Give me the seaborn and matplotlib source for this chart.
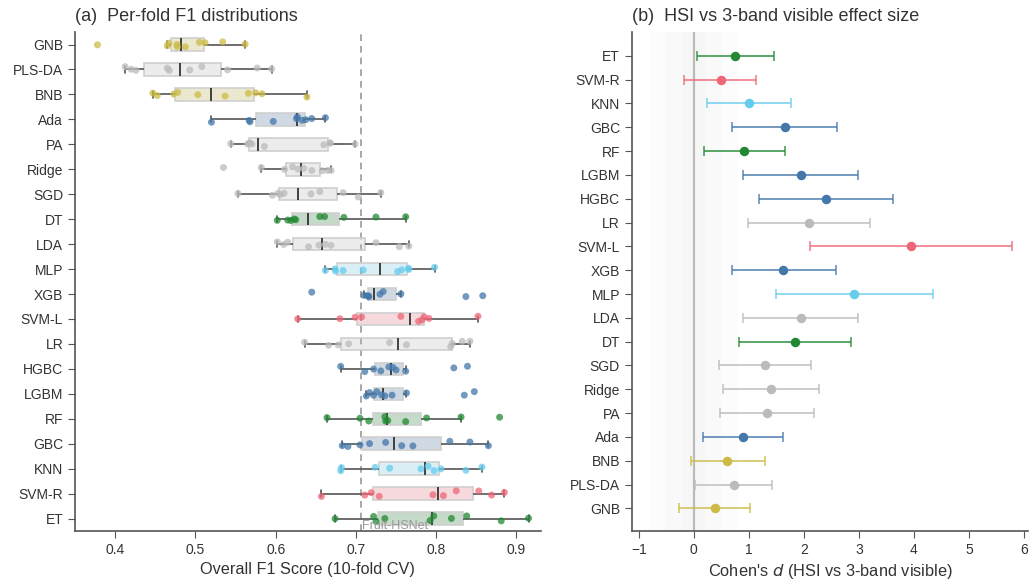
import numpy as np
import pandas as pd
import matplotlib
matplotlib.use("Agg")
import matplotlib.pyplot as plt
import seaborn as sns

# ---------------- data ----------------
models = ["GNB", "PLS-DA", "BNB", "Ada", "PA", "Ridge", "SGD", "DT", "LDA", "MLP",
          "XGB", "SVM-L", "LR", "HGBC", "LGBM", "RF", "GBC", "KNN", "SVM-R", "ET"]

f1_GNB = [0.378, 0.465, 0.467, 0.477, 0.4775, 0.4875, 0.505, 0.512, 0.534, 0.562]
f1_PLSDA = [0.4125, 0.420, 0.426, 0.465, 0.4675, 0.493, 0.508, 0.540, 0.577, 0.595]
f1_BNB = [0.447, 0.4525, 0.473, 0.478, 0.503, 0.537, 0.566, 0.575, 0.583, 0.639]
f1_Ada = [0.520, 0.567, 0.568, 0.597, 0.626, 0.627, 0.633, 0.6375, 0.645, 0.662]
f1_PA = [0.544, 0.565, 0.567, 0.568, 0.5705, 0.586, 0.660, 0.6675, 0.668, 0.699]
f1_Ridge = [0.535, 0.582, 0.611, 0.621, 0.628, 0.635, 0.645, 0.658, 0.665, 0.669]
f1_SGD = [0.553, 0.596, 0.603, 0.606, 0.6105, 0.644, 0.655, 0.684, 0.703, 0.731]
f1_DT = [0.602, 0.615, 0.619, 0.623, 0.625, 0.655, 0.661, 0.685, 0.725, 0.762]
f1_LDA = [0.602, 0.610, 0.615, 0.641, 0.654, 0.662, 0.669, 0.725, 0.754, 0.766]
f1_MLP = [0.662, 0.674, 0.6745, 0.684, 0.709, 0.752, 0.757, 0.7655, 0.766, 0.798]
f1_XGB = [0.645, 0.710, 0.7145, 0.716, 0.716, 0.730, 0.734, 0.756, 0.837, 0.858]
f1_SVML = [0.6275, 0.680, 0.699, 0.707, 0.756, 0.778, 0.7825, 0.785, 0.791, 0.852]
f1_LR = [0.636, 0.666, 0.678, 0.691, 0.742, 0.763, 0.818, 0.820, 0.8325, 0.842]
f1_HGBC = [0.681, 0.711, 0.722, 0.731, 0.741, 0.746, 0.750, 0.762, 0.822, 0.839]
f1_LGBM = [0.713, 0.717, 0.722, 0.726, 0.732, 0.736, 0.745, 0.763, 0.835, 0.8475]
f1_RF = [0.664, 0.705, 0.716, 0.736, 0.737, 0.7396, 0.762, 0.788, 0.831, 0.879]
f1_GBC = [0.683, 0.690, 0.705, 0.717, 0.737, 0.757, 0.771, 0.817, 0.842, 0.865]
f1_KNN = [0.681, 0.682, 0.724, 0.742, 0.781, 0.790, 0.7975, 0.806, 0.837, 0.857]
f1_SVMR = [0.657, 0.711, 0.719, 0.729, 0.796, 0.809, 0.825, 0.853, 0.869, 0.885]
f1_ET = [0.674, 0.722, 0.725, 0.736, 0.7925, 0.797, 0.819, 0.838, 0.881, 0.915]

fruit_hsnet_f1 = 0.7065

d_models = ["ET", "SVM-R", "KNN", "GBC", "RF", "LGBM", "HGBC", "LR", "SVM-L", "XGB",
            "MLP", "LDA", "DT", "SGD", "Ridge", "PA", "Ada", "BNB", "PLS-DA", "GNB"]
d_value = [0.75, 0.49, 1.00, 1.65, 0.91, 1.94, 2.40, 2.09, 3.95, 1.63,
           2.92, 1.94, 1.84, 1.29, 1.41, 1.33, 0.89, 0.61, 0.73, 0.38]
d_low = [0.05, -0.17, 0.24, 0.70, 0.18, 0.89, 1.18, 0.98, 2.11, 0.69,
         1.50, 0.89, 0.82, 0.45, 0.53, 0.48, 0.16, -0.06, 0.03, -0.27]
d_high = [1.46, 1.13, 1.76, 2.60, 1.65, 2.99, 3.62, 3.20, 5.79, 2.59,
          4.35, 2.99, 2.86, 2.13, 2.28, 2.19, 1.62, 1.29, 1.42, 1.02]

BLUE, CYAN, GREEN = "#4477AA", "#66CCEE", "#228833"
YELLOW, RED, GREY = "#CCBB44", "#EE6677", "#BBBBBB"
model_colors = {
    "GNB": YELLOW, "PLS-DA": GREY, "BNB": YELLOW, "Ada": BLUE, "PA": GREY,
    "Ridge": GREY, "SGD": GREY, "DT": GREEN, "LDA": GREY, "MLP": CYAN,
    "XGB": BLUE, "SVM-L": RED, "LR": GREY, "HGBC": BLUE, "LGBM": BLUE,
    "RF": GREEN, "GBC": BLUE, "KNN": CYAN, "SVM-R": RED, "ET": GREEN,
}

f1_lists = [f1_GNB, f1_PLSDA, f1_BNB, f1_Ada, f1_PA, f1_Ridge, f1_SGD, f1_DT,
            f1_LDA, f1_MLP, f1_XGB, f1_SVML, f1_LR, f1_HGBC, f1_LGBM, f1_RF,
            f1_GBC, f1_KNN, f1_SVMR, f1_ET]
df = pd.DataFrame([(m, v) for m, vals in zip(models, f1_lists) for v in vals],
                  columns=["model", "f1"])

# ---------------- style ----------------
sns.set_style("ticks")
plt.rcParams["font.family"] = ["Liberation Sans", "DejaVu Sans"]
plt.rcParams["axes.edgecolor"] = "#555555"
plt.rcParams["axes.linewidth"] = 1.2
plt.rcParams["xtick.color"] = "#555555"
plt.rcParams["ytick.color"] = "#555555"
plt.rcParams["xtick.labelcolor"] = "#333333"
plt.rcParams["ytick.labelcolor"] = "#333333"
plt.rcParams["xtick.labelsize"] = 10
plt.rcParams["ytick.labelsize"] = 10
plt.rcParams["xtick.major.size"] = 5
plt.rcParams["ytick.major.size"] = 5
plt.rcParams["text.color"] = "#333333"
plt.rcParams["axes.labelcolor"] = "#333333"

fig = plt.figure(figsize=(10.3, 5.88), dpi=100)
ax1 = fig.add_axes([0.0728, 0.0969, 0.452, 0.8486])
ax2 = fig.add_axes([0.6133, 0.0969, 0.385, 0.8486])

# ---------------- panel (a) ----------------
np.random.seed(3)
sns.boxplot(data=df, x="f1", y="model", order=models, hue="model",
            hue_order=models, palette=model_colors, legend=False,
            showfliers=False, width=0.5, linewidth=1.2, ax=ax1,
            boxprops=dict(edgecolor="#cccccc"),
            medianprops=dict(color="#333333", linewidth=1.3),
            whiskerprops=dict(color="#555555", linewidth=1.2),
            capprops=dict(color="#555555", linewidth=1.2))
for p in ax1.patches:
    fc = p.get_facecolor()
    p.set_facecolor((fc[0], fc[1], fc[2], 0.28))
    p.set_edgecolor("#cfcfcf")

sns.stripplot(data=df, x="f1", y="model", order=models, hue="model",
              hue_order=models, palette=model_colors, legend=False,
              size=5, alpha=0.75, jitter=0.12, linewidth=0, ax=ax1)

ax1.axvline(fruit_hsnet_f1, color="#999999", lw=1.2, ls=(0, (4, 3)), zorder=0.5)
ax1.text(fruit_hsnet_f1 + 0.001, 19.42, "Fruit-HSNet", color="#999999",
         fontsize=9, ha="left", va="baseline")
ax1.set_xlim(0.35, 0.93)
ax1.set_ylim(19.5, -0.5)
ax1.set_xticks([0.4, 0.5, 0.6, 0.7, 0.8, 0.9])
ax1.set_xlabel("Overall F1 Score (10-fold CV)", fontsize=11.7)
ax1.set_ylabel("")
ax1.set_title("(a)  Per-fold F1 distributions", loc="left", fontsize=13, pad=8)
sns.despine(ax=ax1)

# ---------------- panel (b) ----------------
for w in (0.8, 0.5, 0.2):
    ax2.axvspan(-w, w, color="black", alpha=0.012, lw=0, zorder=0)
ax2.axvline(0, color="#bbbbbb", lw=1.6, zorder=1)

dd = pd.DataFrame({"model": d_models, "d": d_value})
ypos = np.arange(len(d_models))
for i, m in enumerate(d_models):
    ax2.errorbar(d_value[i], ypos[i],
                 xerr=[[d_value[i] - d_low[i]], [d_high[i] - d_value[i]]],
                 fmt="none", ecolor=model_colors[m], alpha=0.8, elinewidth=1.3,
                 capsize=3.5, capthick=1.2, zorder=2)
sns.pointplot(data=dd, x="d", y="model", order=d_models, hue="model",
              hue_order=d_models, palette=model_colors, legend=False,
              linestyle="none", markers="o", markersize=4.8, dodge=False,
              errorbar=None, ax=ax2, zorder=3)

ax2.set_xlim(-1.13, 6.08)
ax2.set_ylim(19.95, -1.0)
ax2.set_xticks(range(-1, 7))
ax2.set_xticklabels(["\u22121", "0", "1", "2", "3", "4", "5", "6"])
ax2.set_xlabel("Cohen's $\\it{d}$ (HSI vs 3-band visible)", fontsize=11.8)
ax2.set_ylabel("")
ax2.set_title("(b)  HSI vs 3-band visible effect size", loc="left", fontsize=13, pad=8)
sns.despine(ax=ax2)

fig.savefig("out.png", dpi=100)
